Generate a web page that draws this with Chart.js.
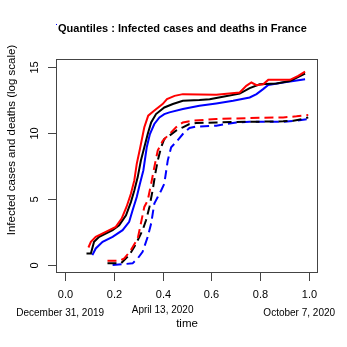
<!DOCTYPE html>
<html><head><meta charset="utf-8">
<script src="https://cdn.jsdelivr.net/npm/chart.js@4"></script>
<style>html,body{margin:0;padding:0;background:#fff;}canvas{display:block;}</style>
</head><body>
<canvas id="c" width="347" height="347"></canvas>
<script>
// ---- data ----
const xTicks = [0, 0.2, 0.4, 0.6, 0.8, 1.0];
const xTickLabels = ["0.0", "0.2", "0.4", "0.6", "0.8", "1.0"];
const yTicks = [0, 5, 10, 15];
const yTickLabels = ["0", "5", "10", "15"];
const dateLabels = ["December 31, 2019", "April 13, 2020", "October 7, 2020"];
const datePositions = [-0.02, 0.4, 0.96];

const casesBlackX = [0.088,0.106,0.119,0.140,0.195,0.222,0.250,0.270,0.284,0.298,0.311,0.325,0.339,0.353,0.373,0.407,0.442,0.483,0.551,0.593,0.647,0.716,0.757,0.798,0.867,0.922,0.984];
const casesBlackY = [0.88,0.88,1.76,2.14,2.64,3.02,3.77,4.77,5.65,6.66,7.91,8.92,9.92,10.8,11.43,11.93,12.19,12.44,12.49,12.56,12.74,12.98,13.39,13.69,13.74,13.94,14.5];
const casesRedX = [0.096,0.106,0.126,0.167,0.208,0.232,0.252,0.270,0.284,0.294,0.307,0.325,0.341,0.365,0.400,0.418,0.449,0.483,0.620,0.716,0.743,0.764,0.785,0.812,0.833,0.922,0.956,0.984];
const casesRedY = [1.33,1.76,2.14,2.51,2.89,3.52,4.40,5.40,6.41,7.66,8.79,10.43,11.31,11.68,12.19,12.56,12.81,12.94,12.89,13.07,13.57,13.82,13.62,13.69,14.02,14.02,14.32,14.65];
const casesBlueX = [0.112,0.126,0.154,0.195,0.236,0.263,0.277,0.294,0.307,0.321,0.335,0.348,0.366,0.387,0.407,0.428,0.483,0.551,0.620,0.689,0.757,0.785,0.812,0.833,0.894,0.936,0.984];
const casesBlueY = [0.75,1.26,1.76,2.14,2.64,3.27,4.15,5.15,6.16,7.16,8.92,9.92,10.68,11.18,11.43,11.56,11.81,12.06,12.24,12.44,12.69,12.94,13.32,13.64,13.82,13.94,14.07];
const deathsBlackX = [0.174,0.229,0.243,0.263,0.284,0.305,0.318,0.332,0.346,0.359,0.370,0.380,0.394,0.407,0.428,0.455,0.483,0.510,0.538,0.620,0.757,0.894,0.936,0.977,0.997];
const deathsBlackY = [0.13,0.13,0.38,0.75,1.38,2.14,2.64,3.39,4.40,5.65,6.91,7.91,8.92,9.55,9.80,10.18,10.43,10.68,10.75,10.80,10.85,10.88,10.93,11.06,11.18];
const deathsRedX = [0.174,0.222,0.243,0.270,0.298,0.325,0.339,0.353,0.366,0.380,0.401,0.428,0.455,0.483,0.524,0.620,0.757,0.894,0.949,0.997];
const deathsRedY = [0.33,0.33,0.50,1.13,2.01,4.40,4.90,6.16,7.41,8.67,9.42,9.92,10.43,10.80,10.93,11.06,11.13,11.18,11.26,11.36];
const deathsBlueX = [0.195,0.277,0.298,0.318,0.339,0.353,0.366,0.380,0.394,0.407,0.421,0.435,0.455,0.483,0.510,0.538,0.620,0.702,0.757,0.894,0.949,0.997];
const deathsBlueY = [0.0,0.13,0.50,1.01,2.14,3.14,4.65,5.15,5.65,6.16,7.91,8.92,9.30,9.92,10.38,10.48,10.55,10.80,10.85,10.85,10.93,11.06];

const pts = (xs, ys) => xs.map((x, i) => ({x: x, y: ys[i]}));
const mk = (xs, ys, color, dashed) => ({
  data: pts(xs, ys), borderColor: color, backgroundColor: color,
  borderWidth: 2, pointRadius: 0, tension: 0, fill: false,
  borderDash: dashed ? [9, 5] : [], borderCapStyle: 'butt'
});

const FONT = '"Liberation Sans", Arial, Helvetica, sans-serif';

const axesPlugin = {
  id: 'rAxes',
  afterDraw(chart) {
    const ctx = chart.ctx, a = chart.chartArea;
    const xs = chart.scales.x, ys = chart.scales.y;
    ctx.save();
    ctx.strokeStyle = '#444'; ctx.lineWidth = 1;
    ctx.strokeRect(a.left + 0.5, a.top + 0.5, a.right - a.left - 1, a.bottom - a.top - 1);
    ctx.fillStyle = '#000';
    // x ticks
    ctx.font = '11px ' + FONT;
    ctx.textAlign = 'center'; ctx.textBaseline = 'middle';
    xTicks.forEach((v, i) => {
      const px = Math.round(xs.getPixelForValue(v)) + 0.5;
      ctx.beginPath(); ctx.moveTo(px, a.bottom); ctx.lineTo(px, a.bottom + 8); ctx.stroke();
      ctx.fillText(xTickLabels[i], px, a.bottom + 22);
    });
    // y ticks
    yTicks.forEach((v, i) => {
      const py = Math.round(ys.getPixelForValue(v)) + 0.5;
      ctx.beginPath(); ctx.moveTo(a.left, py); ctx.lineTo(a.left - 8, py); ctx.stroke();
      ctx.save(); ctx.translate(a.left - 21, py); ctx.rotate(-Math.PI / 2);
      ctx.fillText(yTickLabels[i], 0, 0); ctx.restore();
    });
    // date labels
    ctx.font = '10px ' + FONT;
    dateLabels.forEach((t, i) => {
      const px = xs.getPixelForValue(datePositions[i]);
      ctx.fillText(t, px, i === 1 ? 310 : 313);
    });
    // axis titles
    ctx.font = '11.5px ' + FONT;
    ctx.fillText('time', xs.getPixelForValue(0.5), 324);
    ctx.save(); ctx.translate(12, 140); ctx.rotate(-Math.PI / 2);
    ctx.fillText('Infected cases and deaths (log scale)', 0, 0); ctx.restore();
    // title
    ctx.font = 'bold 11px ' + FONT;
    ctx.textAlign = 'left';
    ctx.fillText('Quantiles : Infected cases and deaths in France', 58, 29);
    ctx.fillStyle = '#0000ff';
    ctx.fillRect(56, 24, 1, 1);
    ctx.restore();
  }
};

new Chart(document.getElementById('c'), {
  type: 'line',
  data: { datasets: [
    mk(casesRedX, casesRedY, '#ff0000', false),
    mk(casesBlackX, casesBlackY, '#000000', false),
    mk(casesBlueX, casesBlueY, '#0000ff', false),
    mk(deathsRedX, deathsRedY, '#ff0000', true),
    mk(deathsBlackX, deathsBlackY, '#000000', true),
    mk(deathsBlueX, deathsBlueY, '#0000ff', true)
  ]},
  options: {
    responsive: false, animation: false, devicePixelRatio: 1,
    layout: { padding: { left: 56, top: 59, right: 29, bottom: 74 } },
    plugins: { legend: { display: false }, tooltip: { enabled: false }, title: { display: false } },
    scales: {
      x: { type: 'linear', min: -0.037, max: 1.037, display: false },
      y: { type: 'linear', min: -0.6, max: 15.6, display: false }
    }
  },
  plugins: [axesPlugin]
});
</script>
</body></html>
